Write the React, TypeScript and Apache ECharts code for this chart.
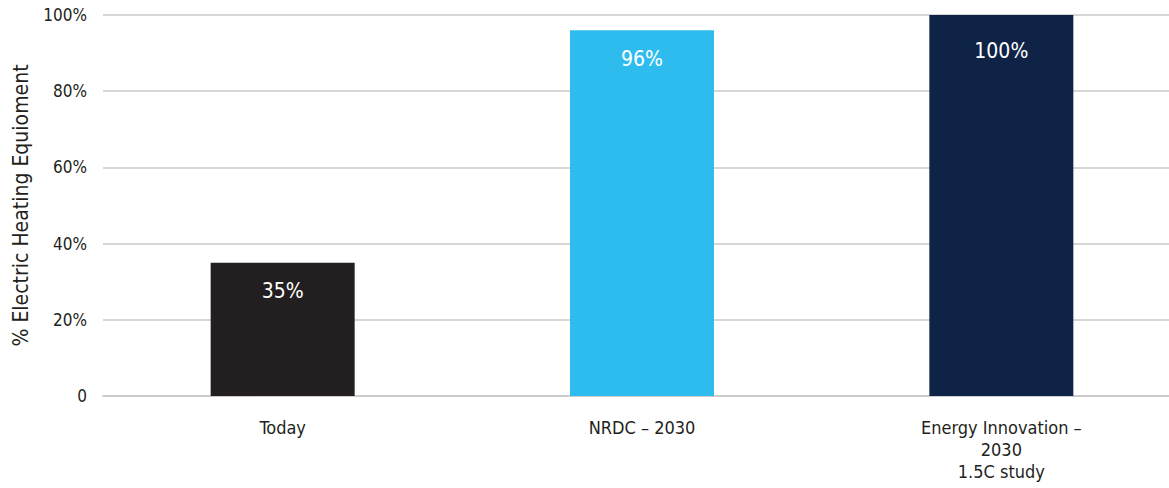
import React, { useEffect, useRef } from "react";
import * as echarts from "echarts";

const categories = ["Today", "NRDC – 2030", "Energy Innovation –\n2030\n1.5C study"];
const values = [35, 96, 100];
const barColors = ["#231f20", "#2ebcee", "#0f2346"];
const labelDistances = [18, 18, 25];
const yTicks = [0, 20, 40, 60, 80, 100];
const yTitle = "% Electric Heating Equioment";

const FONT = '"Liberation Sans Narrow", "DejaVu Sans Condensed", "Roboto", sans-serif';

export default function App() {
  const ref = useRef<HTMLDivElement>(null);
  useEffect(() => {
    if (!ref.current) return;
    const chart = echarts.init(ref.current, undefined, { renderer: "svg" });
    chart.setOption({
      animation: false,
      textStyle: { fontFamily: FONT },
      grid: { left: 103, right: 0, top: 15, bottom: 92, outerBoundsMode: "none", containLabel: false },
      xAxis: {
        type: "category",
        data: categories,
        axisLine: { show: true, lineStyle: { color: "#c8c8c8", width: 1.5 } },
        axisTick: { show: false },
        axisLabel: {
          color: "#231f20",
          fontSize: 18,
          fontFamily: FONT,
          lineHeight: 22,
          margin: 20,
        },
      },
      yAxis: {
        type: "value",
        min: 0,
        max: 100,
        interval: 20,
        name: yTitle,
        nameLocation: "middle",
        nameGap: 72,
        nameTextStyle: { color: "#231f20", fontSize: 21, fontFamily: FONT },
        axisLine: { show: false },
        axisTick: { show: false },
        splitLine: { lineStyle: { color: "#c8c8c8", width: 1.5 } },
        axisLabel: {
          color: "#231f20",
          fontSize: 17,
          fontFamily: FONT,
          margin: 16,
          formatter: (v: number) => (yTicks.includes(v) ? (v === 0 ? "0" : v + "%") : ""),
        },
      },
      series: [
        {
          type: "bar",
          barWidth: 144,
          data: values.map((v, i) => ({
            value: v,
            itemStyle: { color: barColors[i] },
            label: { distance: labelDistances[i] },
          })),
          label: {
            show: true,
            position: "insideTop",
            color: "#ffffff",
            fontSize: 21,
            fontFamily: FONT,
            formatter: (p: any) => p.value + "%",
          },
        },
      ],
    });
    return () => chart.dispose();
  }, []);
  return (
    <div
      ref={ref}
      style={{ position: "fixed", left: 0, top: 0, width: 1181, height: 488, background: "#fff" }}
    />
  );
}
